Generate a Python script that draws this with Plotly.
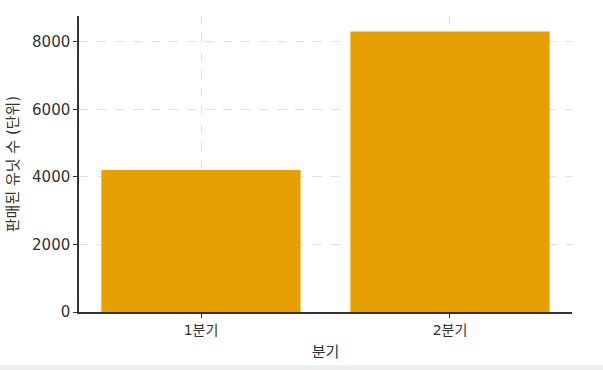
import plotly.graph_objects as go

categories = ["1분기", "2분기"]
units_sold = [4200, 8300]
y_ticks = [0, 2000, 4000, 6000, 8000]

font_family = "DejaVu Sans, Noto Sans CJK KR, sans-serif"

fig = go.Figure(
    go.Bar(
        x=[0, 1],
        y=units_sold,
        width=0.8,
        marker=dict(color="#E69F00", line=dict(width=0)),
    )
)

fig.update_layout(
    width=603,
    height=370,
    margin=dict(l=77, r=31, t=16, b=58),
    paper_bgcolor="white",
    plot_bgcolor="white",
    showlegend=False,
    font=dict(family=font_family, size=14, color="#333333"),
    shapes=[
        dict(type="rect", xref="paper", yref="paper", x0=-0.2, x1=1.2,
             y0=-0.2, y1=-0.18, fillcolor="#eeeeee", line=dict(width=0),
             layer="below"),
    ],
)

fig.update_xaxes(
    range=[-0.49, 1.49],
    tickmode="array",
    tickvals=[0, 1],
    ticktext=categories,
    showline=True,
    linecolor="#333333",
    linewidth=1.5,
    ticks="outside",
    ticklen=4,
    tickcolor="#333333",
    showgrid=True,
    gridcolor="#e0e0e0",
    griddash="dash",
    gridwidth=1,
    zeroline=False,
    tickfont=dict(size=14),
    title=dict(text="분기", font=dict(size=15, family=font_family), standoff=10),
)

fig.update_yaxes(
    range=[0, 8760],
    tickmode="array",
    tickvals=y_ticks,
    ticktext=[str(v) for v in y_ticks],
    showline=True,
    linecolor="#333333",
    linewidth=1.5,
    ticks="outside",
    ticklen=4,
    tickcolor="#333333",
    showgrid=True,
    gridcolor="#e0e0e0",
    griddash="dash",
    gridwidth=1,
    zeroline=False,
    tickfont=dict(size=15),
    title=dict(text="판매된 유닛 수 (단위)", font=dict(size=15, family=font_family), standoff=10),
)

fig.write_html("out.html")
